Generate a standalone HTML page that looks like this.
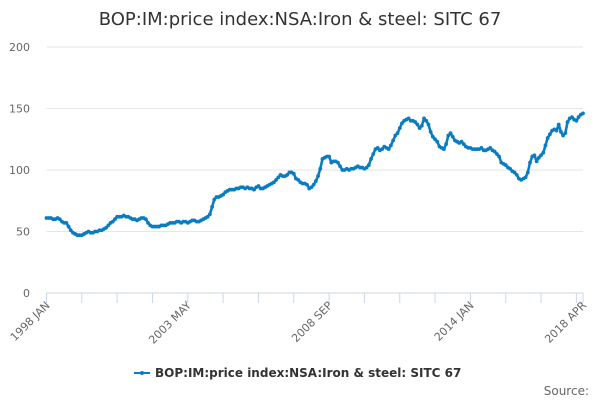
<!DOCTYPE html>
<html><head><meta charset="utf-8"><style>
html,body{margin:0;padding:0;background:#fff;}
svg{display:block;font-family:"DejaVu Sans","Liberation Sans",sans-serif;}
</style></head><body>
<svg id="chart" width="600" height="400" viewBox="0 0 600 400">
<text x="300" y="25" text-anchor="middle" font-size="18" fill="#333">BOP:IM:price index:NSA:Iron &amp; steel: SITC 67</text>
<g id="grid"></g>
<g id="yaxis"></g>
<g id="xaxis"></g>
<g id="series"></g>
<g>
<line x1="134" y1="373" x2="150" y2="373" stroke="#0a7cc1" stroke-width="2"/>
<circle cx="142" cy="373" r="2" fill="#0a7cc1"/>
<text x="155" y="377" font-size="12" font-weight="bold" fill="#333">BOP:IM:price index:NSA:Iron &amp; steel: SITC 67</text>
</g>
<text x="589" y="395" text-anchor="end" font-size="12" fill="#666">Source:</text>
</svg>
<script>
const yTicks = [0, 50, 100, 150, 200];
const xLabels = ["1998 JAN", "2003 MAY", "2008 SEP", "2014 JAN", "2018 APR"];
const xLabelIdx = [0, 64, 128, 192, 243];
const values = [
61,61,61,60,60,61,60,58,57,57,54,51,
49,48,47,47,47,48,49,50,49,49,50,50,
51,51,52,53,55,57,58,60,62,62,62,63,
62,62,61,60,60,59,60,61,61,60,57,55,
54,54,54,54,55,55,55,56,57,57,57,58,
58,57,58,58,57,58,59,59,58,58,59,60,
61,62,64,70,76,78,78,79,80,82,83,84,
84,84,85,85,86,86,85,86,85,85,84,86,
87,85,85,86,87,88,89,90,92,94,96,95,
95,96,98,98,97,93,92,90,89,89,88,85,
86,88,91,95,101,109,110,111,111,106,107,107,
106,103,100,100,101,100,101,101,102,103,102,102,
101,102,104,109,113,117,118,116,117,119,118,117,
120,124,128,130,134,138,140,141,142,140,140,139,
137,134,136,142,140,137,131,127,125,123,119,118,
117,121,128,130,127,124,123,122,123,121,119,118,
118,117,117,117,117,118,116,116,117,118,116,115,
113,111,106,105,104,102,101,99,98,96,93,92,
93,94,98,106,111,112,107,110,112,114,120,126,
129,132,133,132,137,131,128,130,139,142,143,141,
140,143,145,146
];
const NS="http://www.w3.org/2000/svg";
const x0=46.5,x1=583,y0=293,y1=47;
const n=values.length;
function xs(i){return x0+(x1-x0)*i/(n-1);}
function ys(v){return y0-(y0-y1)*v/200;}
function mk(t,a,p){const e=document.createElementNS(NS,t);for(const k in a)e.setAttribute(k,a[k]);p.appendChild(e);return e;}
const grid=document.getElementById('grid'),ya=document.getElementById('yaxis'),xa=document.getElementById('xaxis'),se=document.getElementById('series');
yTicks.forEach(v=>{
 if(v>0){const g=mk('line',{x1:x0,x2:x1,y1:ys(v),y2:ys(v),stroke:'#e6e6e6','stroke-width':1},grid);
 
 }
 const t=mk('text',{x:30,y:ys(v)+4,'text-anchor':'end','font-size':11,fill:'#666'},ya);
 t.textContent=v;
 
 
});
mk('line',{x1:x0,x2:x1,y1:y0,y2:y0,stroke:'#ccd6eb','stroke-width':1},xa);
for(let i=0;i<n;i+=16){const tk=mk('line',{x1:xs(i),x2:xs(i),y1:y0,y2:y0+10,stroke:'#ccd6eb'},xa);
 
 }
mk('line',{x1:xs(n-1),x2:xs(n-1),y1:y0,y2:y0+10,stroke:'#ccd6eb'},xa);
xLabels.forEach((l,k)=>{const x=xs(xLabelIdx[k]),y=y0+13;
 const t=mk('text',{x:x+4,y:y,'text-anchor':'end','font-size':11,fill:'#666',transform:`rotate(-45 ${x+4} ${y})`},xa);
 t.textContent=l;
 
 
});
const d=values.map((v,i)=>(i?'L':'M')+xs(i).toFixed(2)+','+ys(v).toFixed(2)).join('');
const p=mk('path',{d:d,fill:'none',stroke:'#0a7cc1','stroke-width':2.6,'stroke-linejoin':'round'},se);


values.forEach((v,i)=>{const c=mk('circle',{cx:xs(i),cy:ys(v),r:1.9,fill:'#0a7cc1'},se);
 
 });
</script>
</body></html>
